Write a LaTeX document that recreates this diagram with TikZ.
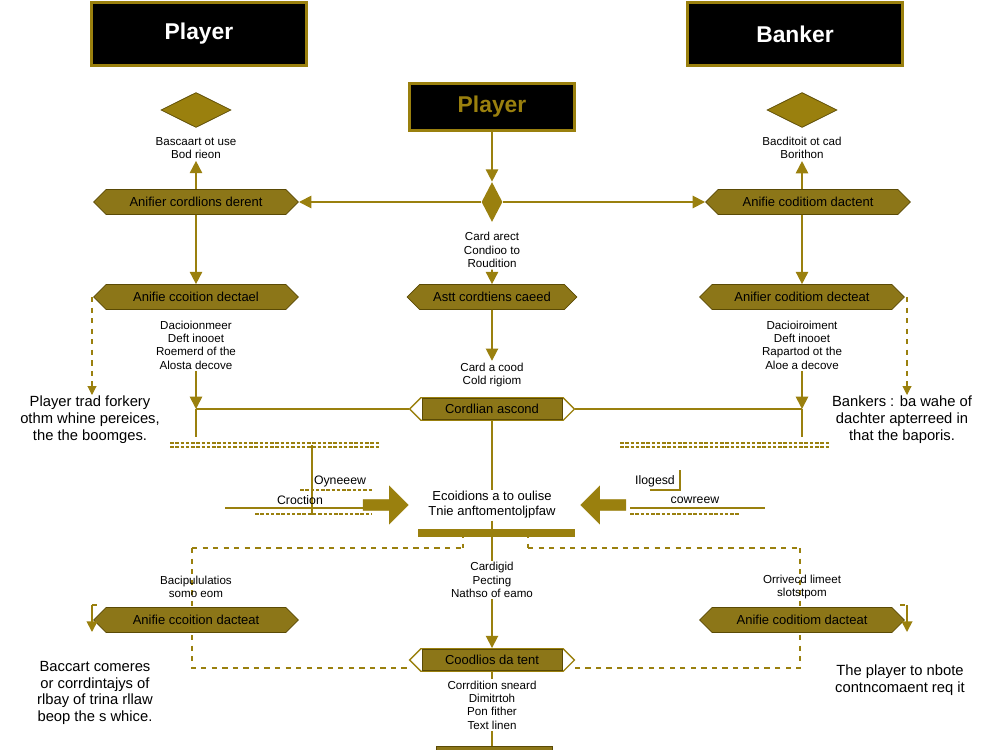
\documentclass[tikz,border=0pt]{standalone}
\usepackage{fontspec}
\setmainfont{Liberation Sans}
\usetikzlibrary{shapes.symbols,shapes.geometric,shapes.arrows,arrows.meta}
\definecolor{gold}{HTML}{9A800E}
\definecolor{bfill}{HTML}{8C7618}
\definecolor{bdark}{HTML}{5A4A05}
\begin{document}
\begin{tikzpicture}[x=0.02cm,y=-0.02cm,
  title/.style={draw=gold,line width=1.5pt,fill=black,minimum width=4.3cm,minimum height=1.25cm,font=\fontsize{13}{15}\selectfont\bfseries,text=white},
  banner/.style={signal,signal to=west and east,fill=bfill,draw=bdark,minimum width=4.1cm,minimum height=0.5cm,inner ysep=1pt,font=\fontsize{7.4}{8}\selectfont,text=black},
  hexo/.style={signal,signal to=west and east,fill=white,draw=gold,line width=0.8pt,minimum width=3.3cm,minimum height=0.45cm},
  hexi/.style={draw=bdark,fill=bfill,minimum width=2.8cm,minimum height=0.42cm,inner sep=1pt,font=\fontsize{7.4}{8}\selectfont},
  txt/.style={align=center,font=\fontsize{6.6}{7.6}\selectfont,inner sep=1pt},
  big/.style={align=center,font=\fontsize{8.4}{9.6}\selectfont,inner sep=1pt},
  ln/.style={draw=gold,line width=1pt},
  arr/.style={ln,-{Triangle[length=7pt,width=7pt]}},
  dsh/.style={draw=gold,dashed,line width=0.6pt},
  gem/.style={diamond,fill=gold,draw=bdark,minimum width=1.4cm,minimum height=0.7cm,inner sep=0pt,aspect=2},
  fat/.style={single arrow,fill=gold,draw=gold,minimum height=0.9cm,minimum width=0.75cm,single arrow head extend=3pt,inner sep=1pt}]
\useasboundingbox (0,0) rectangle (1000,750);
% titles
\node[title] (tp) at (199,34) {Player};
\node[title] (tb) at (795,34) {Banker};
\node[title,minimum width=3.3cm,minimum height=0.95cm,text=gold] (cp) at (492,107) {Player};
% gems
\node[gem] (g1) at (196,110) {};
\node[gem] (g2) at (802,110) {};
\node[txt] (t1) at (196,148) {Bascaart ot use\\Bod rieon};
\node[txt] (t2) at (802,148) {Bacditoit ot cad\\Borithon};
% row1
\node[banner] (b1l) at (196,202) {Anifier cordlions derent};
\node[banner] (b1r) at (808,202) {Anifie coditiom dactent};
\node[diamond,fill=gold,minimum width=0.42cm,minimum height=0.8cm,inner sep=0pt] (cd) at (492,202) {};
\draw[arr] (cp) -- (cd);
\draw[arr] (b1l.north) -- (t1.south);
\draw[arr] (b1r.north -| t2) -- (t2.south);
\draw[arr] (cd.west) -- (b1l.east);
\draw[arr] (cd.east) -- (b1r.west);
\node[txt] (t3) at (492,250) {Card arect\\Condioo to\\Roudition};
% row2
\node[banner] (b2l) at (196,297) {Anifie ccoition dectael};
\node[banner] (b2r) at (802,297) {Anifier coditiom decteat};
\node[banner,minimum width=3.4cm] (b2c) at (492,297) {Astt cordtiens caeed};
\draw[arr] (b1l) -- (b2l);
\draw[arr] (b1r.south -| b2r) -- (b2r);
\draw[arr] (t3) -- (b2c);
\node[txt] (t4) at (196,345) {Dacioionmeer\\Deft inooet\\Roemerd of the\\Alosta decove};
\node[txt] (t5) at (802,345) {Dacioiroiment\\Deft inooet\\Rapartod ot the\\Aloe a decove};
\node[txt] (t6) at (492,375) {Card a cood\\Cold rigiom};
\draw[arr] (b2c) -- (t6);
\coordinate (dl1) at (92,297); \coordinate (dl2) at (92,395);
\coordinate (dr1) at (907,297); \coordinate (dr2) at (907,395);
\draw[dsh,-{Triangle[length=5pt,width=5pt]}] (dl1) -- (dl2);
\draw[dsh,-{Triangle[length=5pt,width=5pt]}] (dr1) -- (dr2);
\node[big] (l1) at (90,420) {Player trad forkery\\othm whine pereices,\\the the boomges.};
\node[big] (r1) at (902,420) {Bankers : ba wahe of\\dachter apterreed in\\that the baporis.};
% center hex 1
\node[hexo] (h1) at (492,409) {};
\node[hexi] (h1i) at (492,409) {Cordlian ascond};
\coordinate (a1) at (196,409); \coordinate (a2) at (802,409);
\draw[arr] (t4) -- (a1);
\draw[arr] (t5) -- (a2);
\draw[ln] (a1) -- (h1.west);
\draw[ln] (h1.east) -- (a2);
\coordinate (a1b) at (196,437); \coordinate (a2b) at (802,437);
\draw[ln] (a1) -- (a1b); \draw[ln] (a2) -- (a2b);
\draw[dsh,dash pattern=on 2pt off 1pt] (170,443) -- (380,443) (170,447) -- (380,447);
\draw[dsh,dash pattern=on 2pt off 1pt] (620,443) -- (830,443) (620,447) -- (830,447);
\draw[ln] (h1) -- (492,490);
% middle row
\coordinate (v1) at (312,445); \coordinate (v2) at (312,515);
\draw[ln] (v1) -- (v2);
\node[txt,font=\fontsize{7}{8}\selectfont] (o1) at (340,481) {Oyneeew};
\node[txt,font=\fontsize{7}{8}\selectfont] (o2) at (300,500) {Croction};
\draw[ln,line width=0.7pt] (225,508) -- (372,508);
\draw[dsh,dash pattern=on 2pt off 1pt] (255,514) -- (372,514) (300,490) -- (372,490);
\node[txt,font=\fontsize{7.4}{8.6}\selectfont] (ce) at (492,505) {Ecoidions a to oulise\\Tnie anftomentoljpfaw};
\node[fat] (fa1) at (383,505) {};
\node[fat,shape border rotate=180] (fa2) at (606,505) {};
\node[txt,font=\fontsize{7}{8}\selectfont] (o3) at (655,481) {Ilogesd};
\node[txt,font=\fontsize{7}{8}\selectfont] (o4) at (695,500) {cowreew};
\draw[ln,line width=0.7pt] (630,508) -- (765,508);
\draw[dsh,dash pattern=on 2pt off 1pt] (630,514) -- (740,514);
\draw[ln] (680,470) -- (680,490) -- (650,490);
\draw[draw=gold,line width=5pt] (418,533) -- (575,533);
\draw[ln] (ce) -- (492,600);
\draw[dsh] (192,548) -- (463,548) (463,533) -- (463,548);
\draw[dsh] (528,548) -- (800,548) (528,533) -- (528,548);
\draw[dsh] (192,548) -- (192,610) (800,548) -- (800,610);
\node[txt] (t7) at (196,587) {Bacipululatios\\somo eom};
\node[txt] (t8) at (802,587) {Orrivecd limeet\\slotstpom};
\node[txt,fill=white] (t9) at (492,580) {Cardigid\\Pecting\\Nathso of eamo};
% row3
\node[banner] (b3l) at (196,620) {Anifie ccoition dacteat};
\node[banner] (b3r) at (802,620) {Anifie coditiom dacteat};
\draw[ln,-{Triangle[length=6pt,width=6pt]}] (92,605) -- (92,632);
\draw[ln,-{Triangle[length=6pt,width=6pt]}] (907,605) -- (907,632);
\draw[dsh] (92,605) -- (100,605) (900,605) -- (907,605);
\node[hexo] (h2) at (492,660) {};
\node[hexi] (h2i) at (492,660) {Coodlios da tent};
\draw[arr] (t9) -- (h2.north);
\draw[dsh] (192,635) -- (192,668) -- (412,668);
\draw[dsh] (800,635) -- (800,668) -- (575,668);
\node[big] (l2) at (95,693) {Baccart comeres\\or corrdintajys of\\rlbay of trina rllaw\\beop the s whice.};
\node[big] (r2) at (900,680) {The player to nbote\\contncomaent req it};
\node[txt] (t10) at (492,705) {Corrdition sneard\\Dimitrtoh\\Pon fither\\Text linen};
\draw[ln] (h2) -- (t10);
\coordinate (bb) at (492,750);
\draw[ln] (t10) -- (bb);
\draw[draw=bdark,fill=bfill] (436,746) rectangle (552,752);
\end{tikzpicture}
\end{document}
